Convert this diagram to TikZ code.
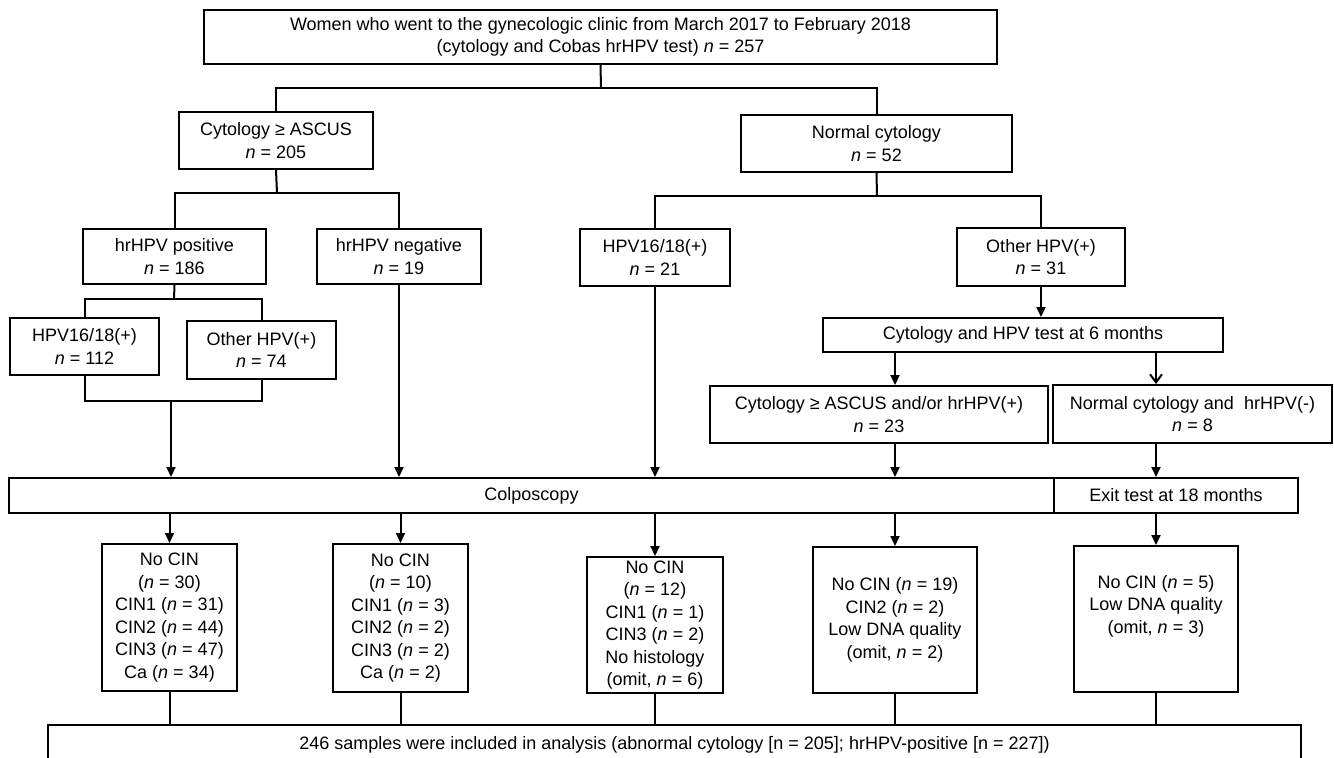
\documentclass[tikz,border=0pt]{standalone}
\usepackage{fontspec}
\setmainfont{Liberation Sans}
\usetikzlibrary{arrows.meta}

\newcommand{\nv}{\textit{n}}

\begin{document}
\begin{tikzpicture}[x=1pt, y=-1pt,
    font=\fontsize{18}{22.5}\selectfont,
    box/.style={draw, line width=2pt, align=center, inner sep=0pt},
    link/.style={line width=2pt},
    arr/.style={link, -{Triangle[length=10pt,width=9pt]}},
    openarr/.style={link, -{Straight Barb[length=8pt,width=12pt]}}]
  \useasboundingbox (0,0) rectangle (1334,758);
  \clip (0,0) rectangle (1334,758);

  % Screening population
  \node[box, minimum width=793pt, minimum height=54pt] (women) at (600.5,37) {Women who went to the gynecologic clinic from March 2017 to February 2018\\(cytology and Cobas hrHPV test) \nv{} = 257};

  % First split by cytology
  \node[box, minimum width=194pt, minimum height=57pt] (ascus) at (276,140.5) {Cytology ≥ ASCUS\\\nv{} = 205};
  \node[box, minimum width=271pt, minimum height=57pt] (normal) at (876.5,143.5) {Normal cytology\\\nv{} = 52};

  % hrHPV status
  \node[box, minimum width=183pt, minimum height=55pt] (hrpos) at (174.5,256.5) {hrHPV positive\\\nv{} = 186};
  \node[box, minimum width=164pt, minimum height=55pt] (hrneg) at (399,256.5) {hrHPV negative\\\nv{} = 19};
  \node[box, minimum width=150pt, minimum height=57pt] (nhpv) at (655,257.5) {HPV16/18(+)\\\nv{} = 21};
  \node[box, minimum width=168pt, minimum height=58pt] (nother) at (1041,257) {Other HPV(+)\\\nv{} = 31};

  % Genotypes of the hrHPV positive
  \node[box, minimum width=149pt, minimum height=57pt] (ahpv) at (84.5,346.5) {HPV16/18(+)\\\nv{} = 112};
  \node[box, minimum width=149pt, minimum height=58pt] (aother) at (261.5,350) {Other HPV(+)\\\nv{} = 74};

  % Follow-up of normal cytology
  \node[box, minimum width=400pt, minimum height=34pt] (retest) at (1023,335) {Cytology and HPV test at 6 months};
  \node[box, minimum width=338pt, minimum height=57pt] (fupos) at (879,414.5) {Cytology ≥ ASCUS and/or hrHPV(+)\\\nv{} = 23};
  \node[box, minimum width=279pt, minimum height=58pt] (funeg) at (1192.5,414) {Normal cytology and\ \ hrHPV(-)\\\nv{} = 8};

  % Colposcopy and exit test
  \node[box, minimum width=1045pt, minimum height=35pt] (colpo) at (531.5,495.5) {Colposcopy};
  \node[box, minimum width=244pt, minimum height=35pt] (exit) at (1176,495.5) {Exit test at 18 months};

  % Histology
  \node[box, minimum width=135pt, minimum height=147pt] (res1) at (169.5,617.5) {No CIN\\(\nv{} = 30)\\CIN1 (\nv{} = 31)\\CIN2 (\nv{} = 44)\\CIN3 (\nv{} = 47)\\Ca (\nv{} = 34)};
  \node[box, minimum width=135pt, minimum height=148pt] (res2) at (400.5,618) {No CIN\\(\nv{} = 10)\\CIN1 (\nv{} = 3)\\CIN2 (\nv{} = 2)\\CIN3 (\nv{} = 2)\\Ca (\nv{} = 2)};
  \node[box, minimum width=136pt, minimum height=136pt] (res3) at (655,625) {No CIN\\(\nv{} = 12)\\CIN1 (\nv{} = 1)\\CIN3 (\nv{} = 2)\\No histology\\(omit, \nv{} = 6)};
  \node[box, minimum width=164pt, minimum height=146pt] (res4) at (895,620) {No CIN (\nv{} = 19)\\CIN2 (\nv{} = 2)\\Low DNA quality\\(omit, \nv{} = 2)};
  \node[box, minimum width=164pt, minimum height=146pt] (res5) at (1156,619) {No CIN (\nv{} = 5)\\Low DNA quality\\(omit, \nv{} = 3)\\\strut};

  % Analysis set
  \node[box, minimum width=1253pt, minimum height=40pt] (final) at (674.5,745) {246 samples were included in analysis (abnormal cytology [n = 205]; hrHPV-positive [n = 227])};

  % Branches
  \coordinate (s1) at (601,88);
  \draw[link] (women.south) -- (s1);
  \draw[link] (ascus.north) |- (s1) -| (normal.north);
  \coordinate (s2) at (277,193);
  \draw[link] (ascus.south) -- (s2);
  \draw[link] (hrpos.north) |- (s2) -| (hrneg.north);
  \coordinate (s3) at (877,196);
  \draw[link] (normal.south) -- (s3);
  \draw[link] (nhpv.north) |- (s3) -| (nother.north);
  \coordinate (s4) at (174,299);
  \draw[link] (hrpos.south) -- (s4);
  \draw[link] (ahpv.north) |- (s4) -| (aother.north);
  \coordinate (s5) at (171,401);
  \draw[link] (ahpv.south) |- (s5) -| (aother.south);

  % Arrows into colposcopy
  \draw[arr] (s5) -- (s5 |- colpo.north);
  \draw[arr] (hrneg.south) -- (hrneg.south |- colpo.north);
  \draw[arr] (nhpv.south) -- (nhpv.south |- colpo.north);
  \draw[arr] (nother.south) -- (nother.south |- retest.north);
  \draw[arr] (retest.south -| res4) -- (fupos.north -| res4);
  \draw[openarr] (retest.south -| res5) -- (funeg.north -| res5);
  \draw[arr] (fupos.south -| res4) -- (colpo.north -| res4);
  \draw[arr] (funeg.south -| res5) -- (exit.north -| res5);

  % Results
  \foreach \r in {res1,res2,res3,res4}
    \draw[arr] (colpo.south -| \r) -- (\r.north);
  \draw[arr] (exit.south -| res5) -- (res5.north);
  \foreach \r in {res1,res2,res3,res4,res5}
    \draw[link] (\r.south) -- (\r.south |- final.north);
\end{tikzpicture}
\end{document}
